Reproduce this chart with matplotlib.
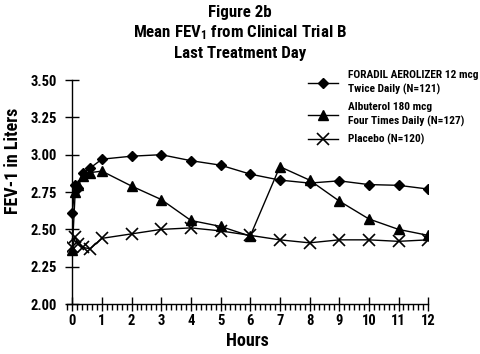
import matplotlib
matplotlib.use("Agg")
import matplotlib.pyplot as plt
from matplotlib.ticker import MultipleLocator

# ---- data ----
hours = [0, 0.1, 0.2, 0.35, 0.6, 1, 2, 3, 4, 5, 6, 7, 8, 9, 10, 11, 12]
foradil = [2.61, 2.80, 2.78, 2.88, 2.91, 2.97, 2.99, 3.00, 2.96, 2.93, 2.87,
           2.83, 2.81, 2.825, 2.80, 2.795, 2.77]
albuterol = [2.36, 2.75, 2.80, 2.86, 2.88, 2.89, 2.79, 2.70, 2.56, 2.52, 2.455,
             2.92, 2.83, 2.69, 2.57, 2.50, 2.46]
placebo = [2.38, 2.45, 2.40, 2.38, 2.37, 2.44, 2.47, 2.50, 2.51, 2.49, 2.46,
           2.43, 2.41, 2.43, 2.43, 2.42, 2.43]

labels = ["FORADIL AEROLIZER 12 mcg\nTwice Daily (N=121)",
          "Albuterol 180 mcg\nFour Times Daily (N=127)",
          "Placebo (N=120)"]
title_lines = ["Figure 2b", r"Mean FEV$_{1}$ from Clinical Trial B", "Last Treatment Day"]
y_ticks = [2.00, 2.25, 2.50, 2.75, 3.00, 3.25, 3.50]
x_ticks = list(range(0, 13))

plt.rcParams['font.family'] = ['Roboto Condensed', 'Liberation Sans Narrow',
                               'Liberation Sans', 'DejaVu Sans']
plt.rcParams['font.weight'] = 'bold'
plt.rcParams['mathtext.fontset'] = 'custom'
plt.rcParams['mathtext.rm'] = 'Roboto Condensed:bold'
plt.rcParams['mathtext.bf'] = 'Roboto Condensed:bold'
plt.rcParams['mathtext.default'] = 'bf'

fig = plt.figure(figsize=(4.8, 3.54), dpi=100)
ax = fig.add_axes([0.140, 0.141, 0.752, 0.633])

ax.plot(hours, foradil, color='black', lw=1.0, marker='D', ms=5, label=labels[0])
ax.plot(hours, albuterol, color='black', lw=1.0, marker='^', ms=6.5, label=labels[1])
ax.plot(hours, placebo, color='black', lw=1.0, marker='x', ms=8, mew=1.2, label=labels[2])

ax.set_xlim(-0.17, 12)
ax.set_ylim(2.0, 3.5)
ax.spines['left'].set_position(('data', 0))
ax.spines['top'].set_visible(False)
ax.spines['right'].set_visible(False)
ax.spines['left'].set_linewidth(1.0)
ax.spines['bottom'].set_linewidth(1.0)

ax.set_yticks(y_ticks)
ax.set_yticklabels([f"{v:.2f}" for v in y_ticks])
ax.set_xticks(x_ticks)
ax.xaxis.set_minor_locator(MultipleLocator(1 / 6))
ax.tick_params(axis='both', which='major', direction='inout', length=10, width=1,
               labelsize=10.5)
ax.tick_params(axis='y', pad=6)
ax.tick_params(axis='x', which='minor', direction='out', length=4, width=1)
ax.tick_params(axis='x', pad=2)

ax.set_xlabel("Hours", fontsize=13, fontweight='bold', labelpad=3)
fig.text(0.028, 0.545, "FEV-1 in Liters", rotation=90, fontsize=13,
         fontweight='bold', ha='center', va='center')

for i, line in enumerate(title_lines):
    fig.text(0.5, 0.965 - i * 0.058, line, fontsize=12.2, fontweight='bold',
             ha='center', va='center')

leg = ax.legend(loc='upper left', bbox_to_anchor=(0.632, 0.815),
                bbox_transform=fig.transFigure, frameon=False, fontsize=8.2,
                handlelength=2.6, handletextpad=0.9, labelspacing=0.6,
                borderaxespad=0)
for t in leg.get_texts():
    t.set_linespacing(1.45)

fig.savefig("out.png", dpi=100)
